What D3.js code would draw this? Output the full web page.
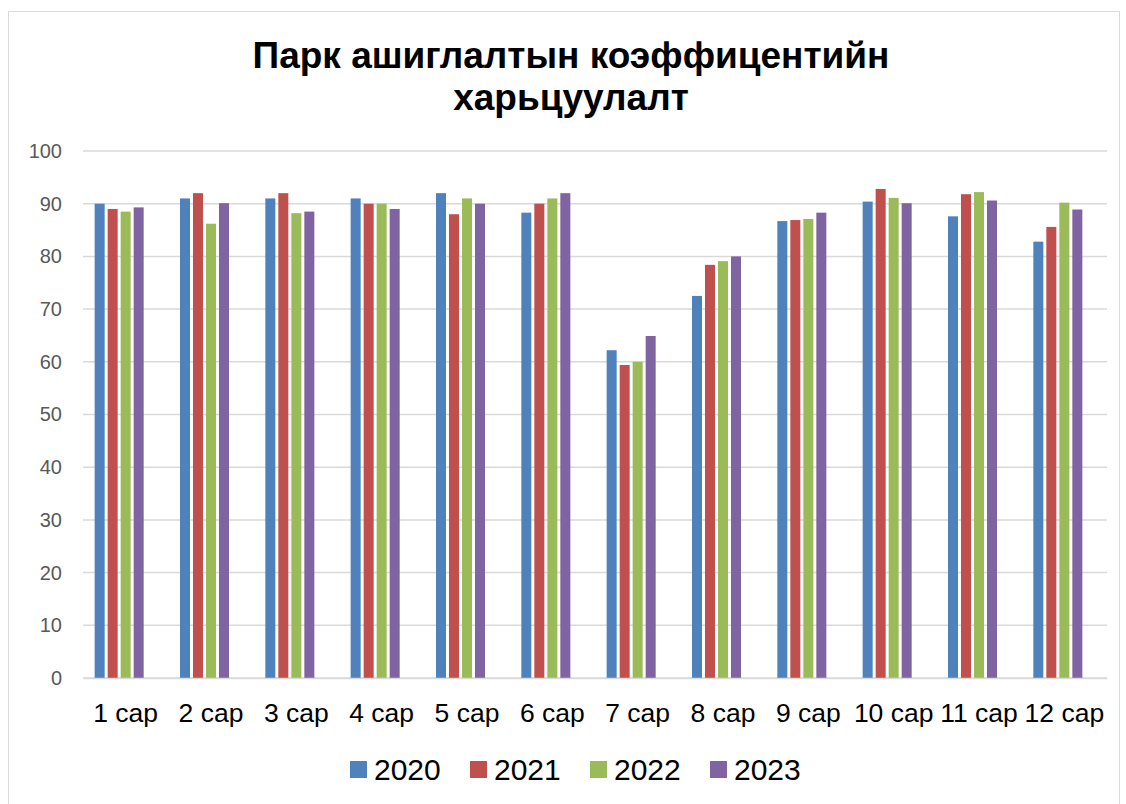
<!DOCTYPE html>
<html>
<head>
<meta charset="utf-8">
<script src="https://cdn.jsdelivr.net/npm/d3@7"></script>
<style>
  body { margin: 0; background: #fff; }
  text { font-family: "Liberation Sans", Arial, sans-serif; }
</style>
</head>
<body>
<svg id="chart" width="1126" height="804"></svg>
<script>

const months = ["1 сар", "2 сар", "3 сар", "4 сар", "5 сар", "6 сар",
    "7 сар", "8 сар", "9 сар", "10 сар", "11 сар", "12 сар"];

const years = ["2020", "2021", "2022", "2023"];

const v2020 = [90.0, 91.0, 91.0, 91.0, 92.0, 88.3, 62.2, 72.5, 86.7, 90.4, 87.6, 82.8];
const v2021 = [89.0, 92.0, 92.0, 90.0, 88.0, 90.0, 59.4, 78.4, 86.9, 92.8, 91.8, 85.6];
const v2022 = [88.5, 86.2, 88.2, 90.0, 91.0, 91.0, 60.0, 79.1, 87.1, 91.1, 92.2, 90.2];
const v2023 = [89.3, 90.1, 88.5, 89.0, 90.0, 92.0, 64.9, 80.0, 88.3, 90.1, 90.6, 88.9];

const yTicks = [0, 10, 20, 30, 40, 50, 60, 70, 80, 90, 100];

const colors = ["#4f81bd", "#c0504d", "#9bbb59", "#8064a2"];

const series = [v2020, v2021, v2022, v2023];

const svg = d3.select("#chart");

// chart frame
svg.append("rect")
    .attr("x", 8.5)
    .attr("y", 11.5)
    .attr("width", 1111)
    .attr("height", 820)
    .attr("fill", "#fff")
    .attr("stroke", "#d9d9d9")
    .attr("stroke-width", 1);

const title = svg.append("text")
    .attr("text-anchor", "middle")
    .attr("font-size", 37)
    .attr("font-weight", "bold")
    .attr("fill", "#000");

title.append("tspan").attr("x", 571).attr("y", 68).text("Парк ашиглалтын коэффицентийн");
title.append("tspan").attr("x", 571).attr("y", 110).text("харьцуулалт");

const x0 = d3.scaleBand()
    .domain(months)
    .range([83, 1107])
    .paddingInner(0.238)
    .paddingOuter(0.119);

// five slots per group, the last one stays empty (as in the original sheet)
const x1 = d3.scaleBand()
    .domain(years.concat([""]))
    .range([0, x0.bandwidth()]);

const y = d3.scaleLinear()
    .domain([0, 100])
    .range([678, 151]);

const grid = svg.append("g");

grid.selectAll("line")
    .data(yTicks)
    .enter()
    .append("line")
    .attr("x1", 83)
    .attr("x2", 1107)
    .attr("y1", d => y(d))
    .attr("y2", d => y(d))
    .attr("stroke", "#d9d9d9")
    .attr("stroke-width", 1.5);

const yAxis = svg.append("g")
    .attr("transform", "translate(62,0)")
    .call(d3.axisLeft(y).tickValues(yTicks).tickSize(0).tickPadding(0));

yAxis.select(".domain").remove();
yAxis.selectAll("text")
    .attr("font-size", 20)
    .attr("fill", "#595959")
    .attr("font-family", "Liberation Sans, Arial, sans-serif");

const groups = svg.append("g")
    .selectAll("g")
    .data(months)
    .enter()
    .append("g")
    .attr("transform", d => `translate(${x0(d)},0)`);

groups.selectAll("rect")
    .data((m, i) => series.map((s, k) => ({ year: years[k], value: s[i], k: k })))
    .enter()
    .append("rect")
    .attr("x", d => x1(d.year) + 1.5)
    .attr("width", x1.bandwidth() - 3)
    .attr("y", d => y(d.value))
    .attr("height", d => y(0) - y(d.value))
    .attr("fill", d => colors[d.k]);

const xAxis = svg.append("g")
    .attr("transform", "translate(0,678)")
    .call(d3.axisBottom(x0).tickSize(0).tickPadding(0));

xAxis.select(".domain")
    .attr("stroke", "#d9d9d9")
    .attr("stroke-width", 1.5);

xAxis.selectAll("text")
    .attr("dy", null)
    .attr("y", 44)
    .attr("font-size", 26.5)
    .attr("fill", "#000")
    .attr("font-family", "Liberation Sans, Arial, sans-serif");

const legend = svg.append("g")
    .selectAll("g")
    .data(years)
    .enter()
    .append("g")
    .attr("transform", (d, i) => `translate(${350 + i * 120},761)`);

legend.append("rect")
    .attr("width", 17)
    .attr("height", 17)
    .attr("fill", (d, i) => colors[i]);

legend.append("text")
    .attr("x", 24)
    .attr("y", 19)
    .attr("font-size", 30)
    .attr("fill", "#000")
    .text(d => d);

</script>
</body>
</html>
